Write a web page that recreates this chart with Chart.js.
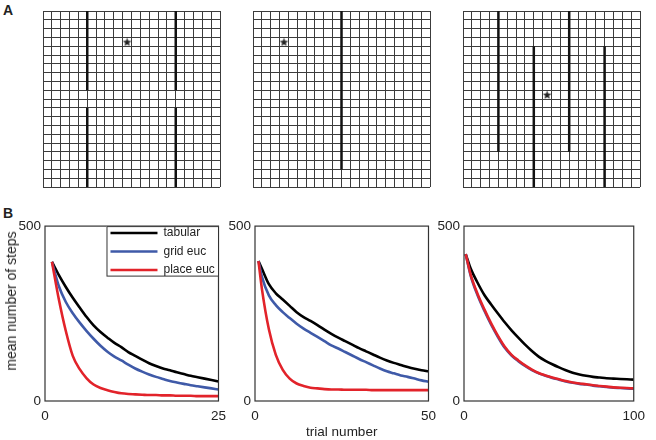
<!DOCTYPE html>
<html>
<head>
<meta charset="utf-8">
<script src="https://cdn.jsdelivr.net/npm/chart.js@4.4.1/dist/chart.umd.min.js"></script>
<style>
  body { margin: 0; background: #fff; }
  #fig { position: relative; width: 656px; height: 440px; overflow: hidden; }
  #fig canvas { position: absolute; }
  .panel-label { position: absolute; font: bold 14px "Liberation Sans", Arial, sans-serif; color: #222; }
  .y-title {
    position: absolute; left: 11px; top: 301px; white-space: nowrap;
    font: 14px "Liberation Sans", Arial, sans-serif; color: #222;
    transform: translate(-50%, -50%) rotate(-90deg);
  }
</style>
</head>
<body>
<div id="fig">
  <div class="panel-label" style="left:3px; top:2px;">A</div>
  <div class="panel-label" style="left:3px; top:205px;">B</div>
  <canvas id="maze1" width="181" height="180" style="left:41px; top:9px;"></canvas>
  <canvas id="maze2" width="181" height="180" style="left:251px; top:9px;"></canvas>
  <canvas id="maze3" width="181" height="180" style="left:461px; top:9px;"></canvas>
  <canvas id="steps1" width="233" height="226" style="left:0px; top:214px;"></canvas>
  <canvas id="steps2" width="228" height="226" style="left:215px; top:214px;"></canvas>
  <canvas id="steps3" width="228" height="226" style="left:424px; top:214px;"></canvas>
  <div class="y-title">mean number of steps</div>
</div>
<script>
// ---- maze layouts (20x20 grid, y counted from the top) ----
const gridSize = 20;
const walls1 = [[[5, 0], [5, 9]], [[5, 11], [5, 20]], [[15, 0], [15, 9]], [[15, 11], [15, 20]]];
const goal1 = [9.5, 3.5];
const walls2 = [[[10, 0], [10, 18]]];
const goal2 = [3.5, 3.5];
const walls3 = [[[4, 0], [4, 16]], [[8, 4], [8, 20]], [[12, 0], [12, 16]], [[16, 4], [16, 20]]];
const goal3 = [9.5, 9.5];

// ---- learning curves: mean number of steps per trial ----
const seriesNames = ['tabular', 'grid euc', 'place euc'];
const seriesColors = ['#000000', '#3f5aa8', '#e2232a'];
const yTicks = [0, 500];

const trials1 = [1, 2, 3, 4, 5, 6, 7, 8, 9, 10, 11, 12, 13, 14, 15, 16, 17, 18, 19, 20, 21, 22, 23, 24, 25];
const tabular1 = [398, 360, 326, 295, 267, 240, 216, 197, 181, 166, 154, 140, 129, 118, 108, 100, 93, 88, 82, 77, 72, 68, 64, 60, 56];
const gridEuc1 = [398, 328, 283, 251, 224, 200, 178, 158, 141, 127, 116, 104, 93, 84, 76, 69, 63, 57, 53, 49, 45, 42, 39, 36, 33];
const placeEuc1 = [398, 290, 200, 129, 91, 65, 47, 37, 31, 26, 22, 20, 19, 18, 17, 17, 16, 16, 15, 15, 15, 14, 14, 14, 14];
const xTicks1 = [0, 25];

const trials2 = [1, 2, 4, 6, 8, 10, 12, 14, 16, 18, 20, 22, 24, 26, 28, 30, 32, 34, 36, 38, 40, 42, 44, 46, 48, 50];
const tabular2 = [400, 378, 334, 308, 290, 272, 254, 240, 229, 217, 204, 192, 181, 171, 161, 151, 142, 133, 124, 116, 109, 103, 97, 92, 88, 85];
const gridEuc2 = [400, 355, 302, 274, 254, 237, 221, 207, 195, 183, 171, 159, 150, 140, 130, 120, 111, 102, 93, 85, 79, 73, 69, 64, 59, 55];
const placeEuc2 = [400, 320, 205, 132, 89, 64, 50, 43, 38, 36, 34, 33, 33, 32, 32, 32, 32, 31, 31, 31, 31, 31, 31, 31, 31, 31];
const xTicks2 = [0, 50];

const trials3 = [1, 4, 8, 12, 16, 20, 24, 28, 32, 36, 40, 44, 48, 52, 56, 60, 64, 68, 72, 76, 80, 84, 88, 92, 96, 100];
const tabular3 = [420, 378, 338, 303, 276, 250, 225, 202, 181, 161, 143, 127, 115, 105, 96, 88, 81, 76, 72, 69, 67, 65, 64, 63, 62, 61];
const gridEuc3 = [420, 357, 302, 258, 218, 183, 152, 130, 114, 100, 88, 79, 72, 66, 61, 56, 52, 49, 47, 44, 42, 40, 38, 37, 36, 35];
const placeEuc3 = [420, 360, 306, 262, 222, 186, 155, 132, 116, 102, 90, 80, 73, 67, 62, 57, 53, 50, 48, 45, 43, 41, 39, 38, 37, 36];
const xTicks3 = [0, 100];

const FONT = '"Liberation Sans", Arial, sans-serif';
const TEXT = '#222';

// filled five-point star used as the goal marker
function makeStar(size, color) {
    const c = document.createElement('canvas');
    c.width = c.height = size;
    const g = c.getContext('2d');
    g.fillStyle = color;
    g.beginPath();
    for (let i = 0; i < 10; i++) {
        const r = i % 2 === 0 ? size / 2 : size / 4.6;
        const a = -Math.PI / 2 + i * Math.PI / 5;
        const px = size / 2 + r * Math.cos(a);
        const py = size / 2 + r * Math.sin(a) + size * 0.06;
        if (i === 0) g.moveTo(px, py); else g.lineTo(px, py);
    }
    g.closePath();
    g.fill();
    return c;
}
const starImg = makeStar(9, '#222');

function drawMaze(id, walls, goal) {
    const datasets = walls.map(w => ({
        type: 'line',
        data: w.map(p => ({ x: p[0], y: p[1] })),
        borderColor: '#111',
        borderWidth: 2.5,
        pointRadius: 0,
        clip: false
    }));
    datasets.push({
        type: 'scatter',
        data: [{ x: goal[0], y: goal[1] }],
        pointStyle: starImg,
        pointRadius: 5
    });
    const axis = {
        type: 'linear',
        min: 0,
        max: gridSize,
        ticks: { stepSize: 1, display: false },
        grid: { color: '#3c3c3c', lineWidth: 1, drawTicks: false },
        border: { display: false },
        afterFit: s => { s.width = 0; s.height = 0; }
    };
    new Chart(document.getElementById(id), {
        type: 'scatter',
        data: { datasets },
        options: {
            responsive: false,
            animation: false,
            events: [],
            layout: { padding: 2, autoPadding: false },
            plugins: { legend: { display: false }, tooltip: { enabled: false } },
            scales: {
                x: axis,
                y: Object.assign({}, axis, { reverse: true })
            }
        }
    });
}

// frame round the plot area
const framePlugin = {
    id: 'frame',
    afterDraw(chart) {
        const { ctx, chartArea: a } = chart;
        ctx.save();
        ctx.strokeStyle = '#333';
        ctx.lineWidth = 1.2;
        ctx.strokeRect(a.left, a.top, a.right - a.left, a.bottom - a.top);
        ctx.restore();
    }
};

// legend drawn inside the top-right corner of the first curve panel
const insideLegend = {
    id: 'insideLegend',
    afterDraw(chart, args, opts) {
        if (!opts.show) return;
        const { ctx, chartArea: a } = chart;
        const w = 112, h = 50;
        const x0 = a.right - w, y0 = a.top;
        ctx.save();
        ctx.fillStyle = '#fff';
        ctx.fillRect(x0, y0, w, h);
        ctx.strokeStyle = '#333';
        ctx.lineWidth = 1;
        ctx.strokeRect(x0 + 0.5, y0 + 0.5, w - 0.5, h - 0.5);
        ctx.font = '12px ' + FONT;
        ctx.textBaseline = 'middle';
        chart.data.datasets.forEach((ds, i) => {
            const y = y0 + 7 + i * 18.5;
            ctx.strokeStyle = ds.borderColor;
            ctx.lineWidth = 2.5;
            ctx.beginPath();
            ctx.moveTo(x0 + 4, y);
            ctx.lineTo(x0 + 51, y);
            ctx.stroke();
            ctx.fillStyle = TEXT;
            ctx.fillText(ds.label, x0 + 57, y);
        });
        ctx.restore();
    }
};

function drawCurves(id, trials, series, xTicks, cfg) {
    const datasets = series.map((vals, i) => ({
        label: seriesNames[i],
        data: trials.map((t, k) => ({ x: t, y: vals[k] })),
        borderColor: seriesColors[i],
        borderWidth: 2.6,
        pointRadius: 0,
        cubicInterpolationMode: 'monotone',
        order: 2 - i
    }));
    new Chart(document.getElementById(id), {
        type: 'line',
        data: { datasets },
        options: {
            responsive: false,
            animation: false,
            events: [],
            layout: { padding: { top: 10, right: 12, left: 0, bottom: 0 }, autoPadding: false },
            plugins: {
                legend: { display: false },
                tooltip: { enabled: false },
                insideLegend: { show: !!cfg.legend }
            },
            scales: {
                x: {
                    type: 'linear',
                    min: xTicks[0],
                    max: xTicks[xTicks.length - 1],
                    afterBuildTicks: s => { s.ticks = xTicks.map(v => ({ value: v })); },
                    grid: { display: false, drawTicks: false },
                    border: { display: false },
                    ticks: { padding: 7, color: TEXT, font: { family: FONT, size: 13.5 }, maxRotation: 0 },
                    title: {
                        display: !!cfg.xTitle,
                        text: cfg.xTitle || '',
                        color: TEXT,
                        font: { family: FONT, size: 13.5 },
                        padding: { top: 0, bottom: 0 }
                    },
                    afterFit: s => { s.height = 39; }
                },
                y: {
                    type: 'linear',
                    min: yTicks[0],
                    max: yTicks[yTicks.length - 1],
                    afterBuildTicks: s => { s.ticks = yTicks.map(v => ({ value: v })); },
                    grid: { display: false, drawTicks: false },
                    border: { display: false },
                    ticks: { padding: 4, color: TEXT, font: { family: FONT, size: 13.5 } },
                    afterFit: s => { s.width = cfg.yWidth; }
                }
            }
        },
        plugins: [framePlugin, insideLegend]
    });
}

drawMaze('maze1', walls1, goal1);
drawMaze('maze2', walls2, goal2);
drawMaze('maze3', walls3, goal3);

drawCurves('steps1', trials1, [tabular1, gridEuc1, placeEuc1], xTicks1,
    { yWidth: 45, legend: true });
drawCurves('steps2', trials2, [tabular2, gridEuc2, placeEuc2], xTicks2,
    { yWidth: 40, xTitle: 'trial number' });
drawCurves('steps3', trials3, [tabular3, gridEuc3, placeEuc3], xTicks3,
    { yWidth: 40 });
</script>
</body>
</html>
